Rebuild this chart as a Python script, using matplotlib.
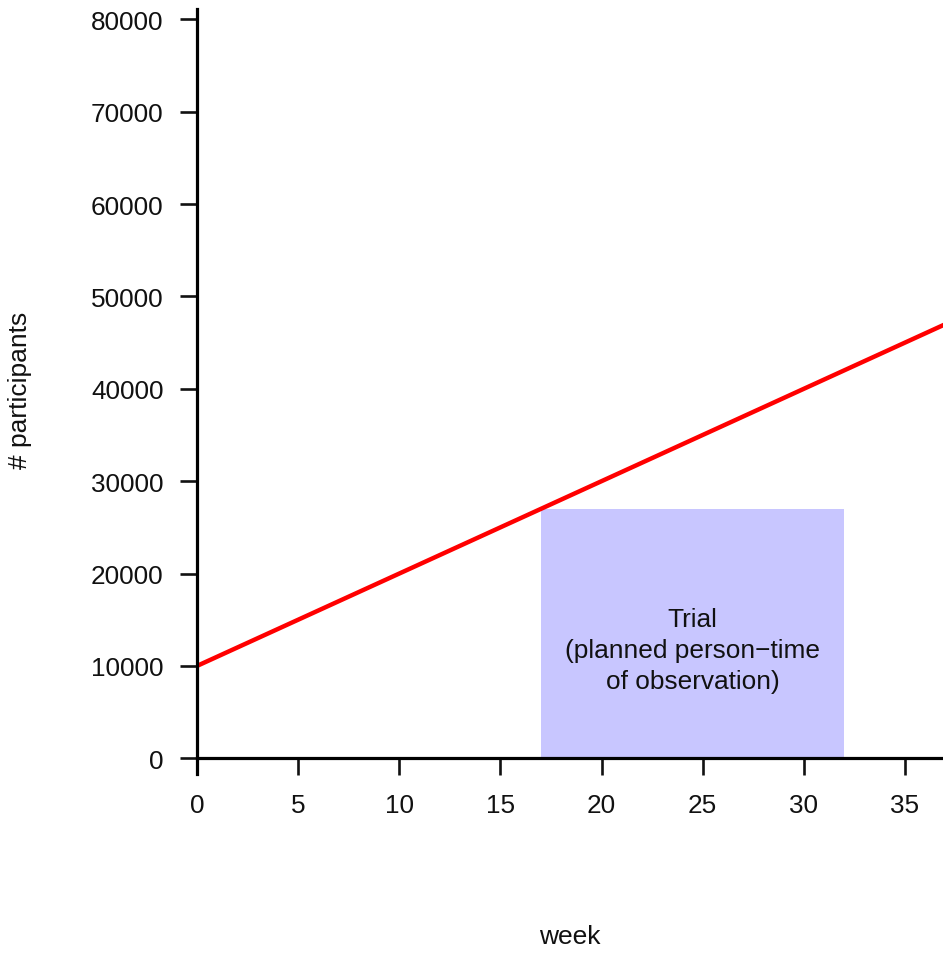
import matplotlib
matplotlib.use("Agg")
import matplotlib.pyplot as plt
from matplotlib.patches import Rectangle

plt.rcParams['font.family'] = ['Liberation Sans', 'DejaVu Sans']

# Data
weeks = [0, 36.88]
participants = [10000, 46880]
trial_start, trial_end = 17, 32
trial_height = 27000
trial_label = "Trial\n(planned person\u2212time\nof observation)"
xticks = [0, 5, 10, 15, 20, 25, 30, 35]
yticks = [0, 10000, 20000, 30000, 40000, 50000, 60000, 70000, 80000]

W, H = 943, 954
fig = plt.figure(figsize=(W / 100, H / 100), dpi=100)
ax = fig.add_axes([197 / W, (H - 775) / H, 1 - 197 / W, (775 - 10) / H])

ax.set_xlim(0, 36.88)
ax.set_ylim(-1700, 81115)

ax.add_patch(Rectangle((trial_start, 0), trial_end - trial_start, trial_height,
                       facecolor="#C8C6FF", edgecolor="none", zorder=1))
ax.plot(weeks, participants, color="#FF0000", lw=3.2, zorder=3, clip_on=True)
ax.text((trial_start + trial_end) / 2, 11700, trial_label, ha="center", va="center",
        fontsize=18.9, color="#111111", linespacing=1.36, zorder=4)

for s in ["top", "right"]:
    ax.spines[s].set_visible(False)
ax.spines["bottom"].set_position(("data", 0))
ax.spines["left"].set_linewidth(2.3)
ax.spines["bottom"].set_linewidth(2.3)
ax.spines["left"].set_zorder(5)
ax.spines["bottom"].set_zorder(5)

ax.set_xticks(xticks)
ax.set_yticks(yticks)
ax.set_xticklabels([str(v) for v in xticks])
ax.set_yticklabels([str(v) for v in yticks])
ax.tick_params(axis="both", direction="out", length=12, width=1.9, labelsize=18.8,
               colors="#111111")
ax.tick_params(axis="y", pad=12)
ax.tick_params(axis="x", pad=13)

ax.set_facecolor("white")
fig.patch.set_facecolor("white")

fig.text(570 / W, 1 - 937 / H, "week", ha="center", va="center", fontsize=19, color="#111111")
fig.text(20 / W, 1 - 390 / H, "# participants", ha="center", va="center", rotation=90,
         fontsize=19, color="#111111")

fig.savefig("out.png", dpi=100)
